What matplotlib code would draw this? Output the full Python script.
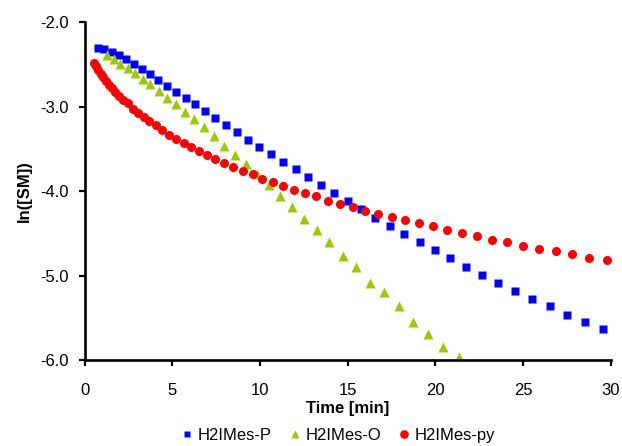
import matplotlib.pyplot as plt

plt.rcParams['font.family'] = ['Liberation Sans', 'DejaVu Sans']

# H2IMes-P (quadrados azuis)
t_p = [0.79, 1.13, 1.55, 1.95, 2.37, 2.81, 3.26, 3.72, 4.21, 4.71, 5.22, 5.77,
       6.30, 6.86, 7.46, 8.05, 8.68, 9.33, 9.97, 10.64, 11.32, 12.03, 12.72,
       13.47, 14.23, 14.99, 15.77, 16.57, 17.41, 18.23, 19.10, 19.95, 20.85,
       21.75, 22.66, 23.59, 24.54, 25.53, 26.51, 27.51, 28.51, 29.54]
ln_p = [-2.30, -2.315, -2.35, -2.39, -2.44, -2.49, -2.55, -2.61, -2.68, -2.75,
        -2.82, -2.90, -2.97, -3.05, -3.13, -3.21, -3.30, -3.39, -3.48, -3.56,
        -3.65, -3.74, -3.83, -3.92, -4.02, -4.11, -4.21, -4.31, -4.41, -4.51,
        -4.60, -4.70, -4.79, -4.89, -4.99, -5.09, -5.18, -5.27, -5.36, -5.46,
        -5.55, -5.63]

# H2IMes-O (triangulos verdes)
t_o = [1.28, 1.67, 2.04, 2.46, 2.88, 3.32, 3.75, 4.23, 4.71, 5.22, 5.75, 6.26,
       6.82, 7.37, 7.96, 8.55, 9.20, 9.82, 10.49, 11.15, 11.82, 12.52, 13.26,
       13.96, 14.73, 15.49, 16.29, 17.07, 17.90, 18.72, 19.58, 20.43, 21.33]
ln_o = [-2.39, -2.44, -2.49, -2.54, -2.60, -2.67, -2.73, -2.81, -2.89, -2.97,
        -3.06, -3.15, -3.24, -3.35, -3.46, -3.57, -3.68, -3.80, -3.92, -4.05,
        -4.19, -4.33, -4.46, -4.60, -4.77, -4.89, -5.09, -5.19, -5.36, -5.55,
        -5.69, -5.84, -5.96]

# H2IMes-py (circulos vermelhos)
t_py = [0.52, 0.66, 0.79, 0.92, 1.07, 1.23, 1.40, 1.57, 1.76, 1.97, 2.21, 2.48,
        2.77, 3.07, 3.38, 3.70, 4.08, 4.44, 4.82, 5.22, 5.64, 6.08, 6.53, 6.99,
        7.46, 7.96, 8.47, 9.02, 9.58, 10.14, 10.74, 11.32, 11.94, 12.58, 13.22,
        13.89, 14.58, 15.28, 16.00, 16.74, 17.50, 18.24, 19.04, 19.84, 20.67,
        21.49, 22.35, 23.21, 24.10, 25.01, 25.93, 26.86, 27.81, 28.78, 29.77]
ln_py = [-2.48, -2.52, -2.57, -2.61, -2.65, -2.70, -2.74, -2.78, -2.83, -2.87,
         -2.92, -2.96, -3.02, -3.07, -3.12, -3.17, -3.22, -3.28, -3.33, -3.38,
         -3.43, -3.48, -3.52, -3.57, -3.62, -3.67, -3.71, -3.76, -3.80, -3.85,
         -3.89, -3.94, -3.99, -4.02, -4.06, -4.11, -4.15, -4.18, -4.23, -4.27,
         -4.30, -4.34, -4.38, -4.41, -4.46, -4.49, -4.53, -4.57, -4.60, -4.65,
         -4.68, -4.71, -4.74, -4.79, -4.81]

x_ticks = [0, 5, 10, 15, 20, 25, 30]
y_ticks = [-6.0, -5.0, -4.0, -3.0, -2.0]

fig = plt.figure(figsize=(6.22, 4.46), dpi=100)
ax = fig.add_axes([0.136, 0.192, 0.846, 0.758])

ax.plot(t_p, ln_p, 's', color='#0000FF', ms=5.2, mec='none', label='H2IMes-P')
ax.plot(t_o, ln_o, '^', color='#99CC00', ms=6.5, mec='none', label='H2IMes-O')
ax.plot(t_py, ln_py, 'o', color='#FF0000', ms=6.5, mec='none', label='H2IMes-py')

ax.set_xlim(0, 30)
ax.set_ylim(-6.0, -2.0)
ax.set_xticks(x_ticks)
ax.set_yticks(y_ticks)
ax.set_yticklabels([f'{v:.1f}' for v in y_ticks])

for lado in ['top', 'right']:
    ax.spines[lado].set_visible(False)
for lado in ['left', 'bottom']:
    ax.spines[lado].set_linewidth(1.9)
ax.tick_params(direction='out', length=4, width=1.6, labelsize=12, colors='black')
ax.tick_params(axis='x', pad=12)
ax.tick_params(axis='y', pad=7.5)

ax.set_xlabel('Time [min]', fontsize=12, fontweight='bold', labelpad=2.5)
ax.set_ylabel('ln([SM])', fontsize=12, fontweight='bold', labelpad=6)

fig.legend(loc='center', bbox_to_anchor=(0.543, 0.024), ncol=3, frameon=False,
           fontsize=12, handletextpad=0.25, columnspacing=0.95, markerscale=0.95,
           handlelength=0.8)

fig.savefig('out.png', dpi=100)
